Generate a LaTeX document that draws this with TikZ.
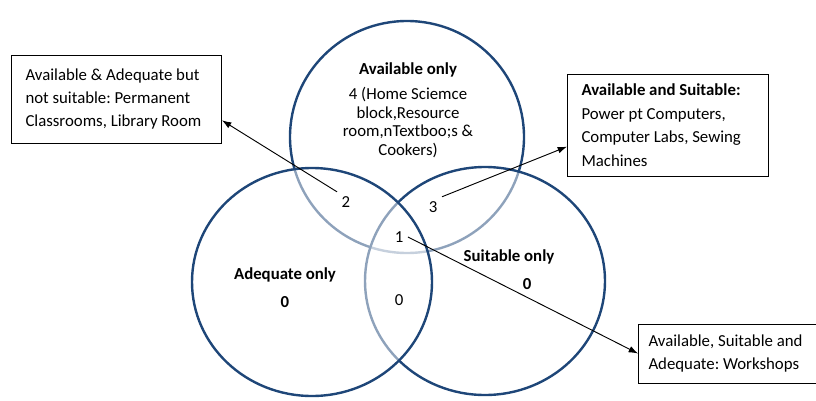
\documentclass[tikz,border=0pt]{standalone}
\usepackage{fontspec}
\setmainfont{Carlito}
\usetikzlibrary{arrows.meta,calc}
\definecolor{vennblue}{RGB}{30,70,120}
\frenchspacing

\begin{document}
\begin{tikzpicture}[x=0.75pt,y=-0.75pt,
  every node/.style={font=\fontsize{12.6}{14}\selectfont},
  venn/.style={draw=vennblue,line width=1.8pt},
  veil/.style={fill=white,fill opacity=0.5},
  head/.style={font=\fontsize{12.6}{14}\selectfont\bfseries},
  infobox/.style={draw,line width=0.75pt,align=flush left,inner xsep=10.5pt,
    anchor=west,font=\fontsize{12.6}{17.6}\selectfont},
  conn/.style={line width=0.7pt,-{Latex[length=7pt,width=5pt]}}]
\useasboundingbox (0,0) rectangle (816,400);

\draw[venn] (407,137) ellipse [x radius=87.75pt, y radius=87pt];
\draw[venn,veil] (485,281) ellipse [x radius=90pt, y radius=85.5pt];
\draw[venn,veil] (312,282) ellipse [x radius=90pt, y radius=85.5pt];

\node[head] (avail) at (408,70) {Available only};
\node[align=center,font=\fontsize{12.6}{13.9}\selectfont] (availtxt) at (408,122.5)
  {4 (Home Sciemce\\block,Resource\\room,nTextboo;s \&\\Cookers)};
\node[head] (adeq) at (285,275) {Adequate only};
\node[head] (adeqzero) at (285,302) {0};
\node[head] (suit) at (509,257) {Suitable only};
\node[head] (suitzero) at (527,284) {0};

\node (two) at (346,202) {2};
\node (three) at (433,207) {3};
\node (one) at (399,237) {1};
\node (zero) at (399,300) {0};

\node[infobox,text width=136.5pt,minimum height=66pt] (box1) at (11,99)
  {Available \& Adequate but\\not suitable: Permanent\\Classrooms, Library Room};
\node[infobox,text width=129.75pt,minimum height=76.5pt] (box2) at (567,125)
  {\textbf{Available and Suitable:}\\Power pt Computers,\\Computer Labs, Sewing\\Machines};
\node[infobox,text width=118.5pt,inner xsep=7.5pt,minimum height=44.25pt] (box3) at (638,353.5)
  {Available, Suitable and\\Adequate: Workshops};

\draw[conn] (two.north west) -- ($(box1.south east)!0.26!(box1.north east)$);
\draw[conn] (three.north east) -- ($(box2.south west)!0.29!(box2.north west)$);
\draw[conn] (one.east) -- (box3.west);

\end{tikzpicture}
\end{document}
